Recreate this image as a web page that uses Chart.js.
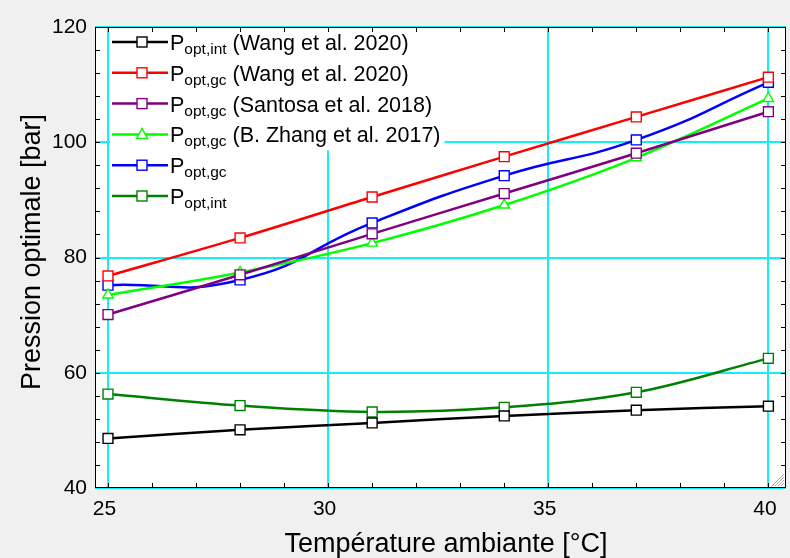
<!DOCTYPE html>
<html>
<head>
<meta charset="utf-8">
<script src="https://cdn.jsdelivr.net/npm/chart.js@4/dist/chart.umd.min.js"></script>
<style>
  body { margin: 0; background: #f0f0f0; }
  canvas { display: block; }
</style>
</head>
<body>
<canvas id="myChart" width="790" height="558"></canvas>
<script>
// ambient temperature [°C]
const temperatures = [25, 28, 31, 34, 37, 40];

// optimal pressures [bar]
const pIntWang    = [48.6, 50.1, 51.3, 52.5, 53.5, 54.2];
const pGcWang     = [76.8, 83.4, 90.5, 97.5, 104.4, 111.3];
const pGcSantosa  = [70.1, 77.0, 84.1, 91.1, 98.1, 105.3];
const pGcZhang    = [73.5, 77.4, 82.5, 89.1, 97.3, 107.6];
const pGcModel    = [75.2, 76.1, 86.0, 94.2, 100.4, 110.4];
const pIntModel   = [56.3, 54.3, 53.2, 54.0, 56.6, 62.5];

const seriesSub = ['opt,int', 'opt,gc', 'opt,gc', 'opt,gc', 'opt,gc', 'opt,int'];
const seriesRef = ['(Wang et al. 2020)', '(Wang et al. 2020)', '(Santosa et al. 2018)', '(B. Zhang et al. 2017)', '', ''];

const xTicks = [25, 30, 35, 40];
const yTicks = [40, 60, 80, 100, 120];

const FONT = '"Liberation Sans", Arial, sans-serif';
const CYAN = 'rgb(20,238,245)';

const toPoints = (arr) => temperatures.map((t, i) => ({x: t, y: arr[i]}));

const makeSet = (arr, color, style, tension) => ({
    data: toPoints(arr),
    borderColor: color,
    backgroundColor: '#ffffff',
    pointBackgroundColor: '#ffffff',
    pointBorderColor: color,
    pointStyle: style,
    pointRadius: style == 'triangle' ? 6 : 7,
    pointBorderWidth: 1.4,
    borderWidth: 2.5,
    tension: tension || 0.35,
    fill: false
});

const datasets = [
    makeSet(pIntWang, '#000000', 'rect'),
    makeSet(pGcWang, '#ff0000', 'rect'),
    makeSet(pGcSantosa, '#800080', 'rect'),
    makeSet(pGcZhang, '#00ff00', 'triangle'),
    makeSet(pGcModel, '#0000ff', 'rect', 0.5),
    makeSet(pIntModel, '#008000', 'rect')
];

// background, frame with inward minor ticks, axis titles, legend
const decor = {
    id: 'decor',
    beforeDraw(chart) {
        const {ctx, chartArea: a} = chart;
        ctx.save();
        ctx.fillStyle = '#f0f0f0';
        ctx.fillRect(0, 0, chart.width, chart.height);
        ctx.fillStyle = '#ffffff';
        ctx.fillRect(a.left, a.top, a.right - a.left, a.bottom - a.top);
        ctx.restore();
    },
    afterDraw(chart) {
        const {ctx, chartArea: a} = chart;
        const xs = chart.scales.x, ys = chart.scales.y;
        ctx.save();

        // legend rows
        const x0 = 112, x1 = 168, y0 = 42, dy = 30.8;
        datasets.forEach((ds, i) => {
            const cy = y0 + i * dy;
            ctx.font = '21.5px ' + FONT;
            const wP = ctx.measureText('P').width;
            ctx.font = '15.5px ' + FONT;
            const wSub = ctx.measureText(seriesSub[i]).width;
            ctx.font = '21.5px ' + FONT;
            const wRef = seriesRef[i] ? ctx.measureText(' ' + seriesRef[i]).width : 0;
            const tx = 170;
            ctx.fillStyle = '#ffffff';
            ctx.fillRect(110, cy - 15, tx + wP + wSub + wRef + 4 - 110, 31);

            ctx.strokeStyle = ds.borderColor;
            ctx.lineWidth = 2.5;
            ctx.beginPath();
            ctx.moveTo(x0, cy);
            ctx.lineTo(x1, cy);
            ctx.stroke();
            const mx = (x0 + x1) / 2 + 2;
            ctx.fillStyle = '#ffffff';
            ctx.lineWidth = 1.4;
            if (ds.pointStyle == 'triangle') {
                ctx.beginPath();
                ctx.moveTo(mx, cy - 6);
                ctx.lineTo(mx + 5.5, cy + 4);
                ctx.lineTo(mx - 5.5, cy + 4);
                ctx.closePath();
                ctx.fill();
                ctx.stroke();
            } else {
                ctx.fillRect(mx - 5, cy - 5, 10, 10);
                ctx.strokeRect(mx - 5, cy - 5, 10, 10);
            }

            ctx.fillStyle = '#000000';
            ctx.textAlign = 'left';
            ctx.textBaseline = 'alphabetic';
            ctx.font = '21.5px ' + FONT;
            ctx.fillText('P', tx, cy + 8);
            ctx.font = '15.5px ' + FONT;
            ctx.fillText(seriesSub[i], tx + wP, cy + 12);
            if (seriesRef[i]) {
                ctx.font = '21.5px ' + FONT;
                ctx.fillText(' ' + seriesRef[i], tx + wP + wSub, cy + 8);
            }
        });

        // frame
        ctx.strokeStyle = '#000000';
        ctx.lineWidth = 1;
        ctx.strokeRect(a.left + 0.5, a.top + 0.5, a.right - a.left - 1, a.bottom - a.top - 1);

        // minor ticks
        ctx.beginPath();
        for (let v = 25; v <= 40; v++) {
            const px = Math.round(xs.getPixelForValue(v)) + 0.5;
            ctx.moveTo(px, a.bottom); ctx.lineTo(px, a.bottom - 5);
            ctx.moveTo(px, a.top); ctx.lineTo(px, a.top + 5);
        }
        for (let v = 44; v < 120; v += 4) {
            const py = Math.round(ys.getPixelForValue(v)) + 0.5;
            ctx.moveTo(a.left, py); ctx.lineTo(a.left + 5, py);
            ctx.moveTo(a.right, py); ctx.lineTo(a.right - 5, py);
        }
        ctx.stroke();

        // size grip in the corner
        ctx.strokeStyle = '#a0a0a0';
        ctx.lineWidth = 1;
        ctx.beginPath();
        for (let k = 3; k <= 12; k += 3) {
            ctx.moveTo(a.right - 2 - k, a.bottom - 2);
            ctx.lineTo(a.right - 2, a.bottom - 2 - k);
        }
        ctx.stroke();

        // axis titles
        ctx.fillStyle = '#000000';
        ctx.font = '27px ' + FONT;
        ctx.textAlign = 'center';
        ctx.textBaseline = 'alphabetic';
        ctx.fillText('Température ambiante [°C]', 446, 552);
        ctx.translate(40, 252);
        ctx.rotate(-Math.PI / 2);
        ctx.fillText('Pression optimale [bar]', 0, 0);
        ctx.restore();
    }
};

new Chart('myChart', {
    type: 'line',
    data: {datasets: datasets},
    options: {
        responsive: false,
        animation: false,
        layout: {autoPadding: false, padding: {top: 27, right: 4, left: 0, bottom: 0}},
        plugins: {
            legend: {display: false},
            tooltip: {enabled: false}
        },
        scales: {
            x: {
                type: 'linear',
                min: 24.705,
                max: 40.4,
                afterBuildTicks: (s) => { s.ticks = xTicks.map(v => ({value: v})); },
                afterFit: (s) => { s.height = 70; s.paddingLeft = 0; s.paddingRight = 0; },
                grid: {color: CYAN, lineWidth: 2, drawTicks: false},
                border: {display: false},
                ticks: {color: '#000', padding: 9, labelOffset: -3.5, font: {family: FONT, size: 21}, maxRotation: 0}
            },
            y: {
                min: 40,
                max: 120,
                afterBuildTicks: (s) => { s.ticks = yTicks.map(v => ({value: v})); },
                afterFit: (s) => { s.width = 95; },
                grid: {color: CYAN, lineWidth: 2, drawTicks: false},
                border: {display: false},
                ticks: {color: '#000', padding: 8, font: {family: FONT, size: 21}}
            }
        }
    },
    plugins: [decor]
});
</script>
</body>
</html>
